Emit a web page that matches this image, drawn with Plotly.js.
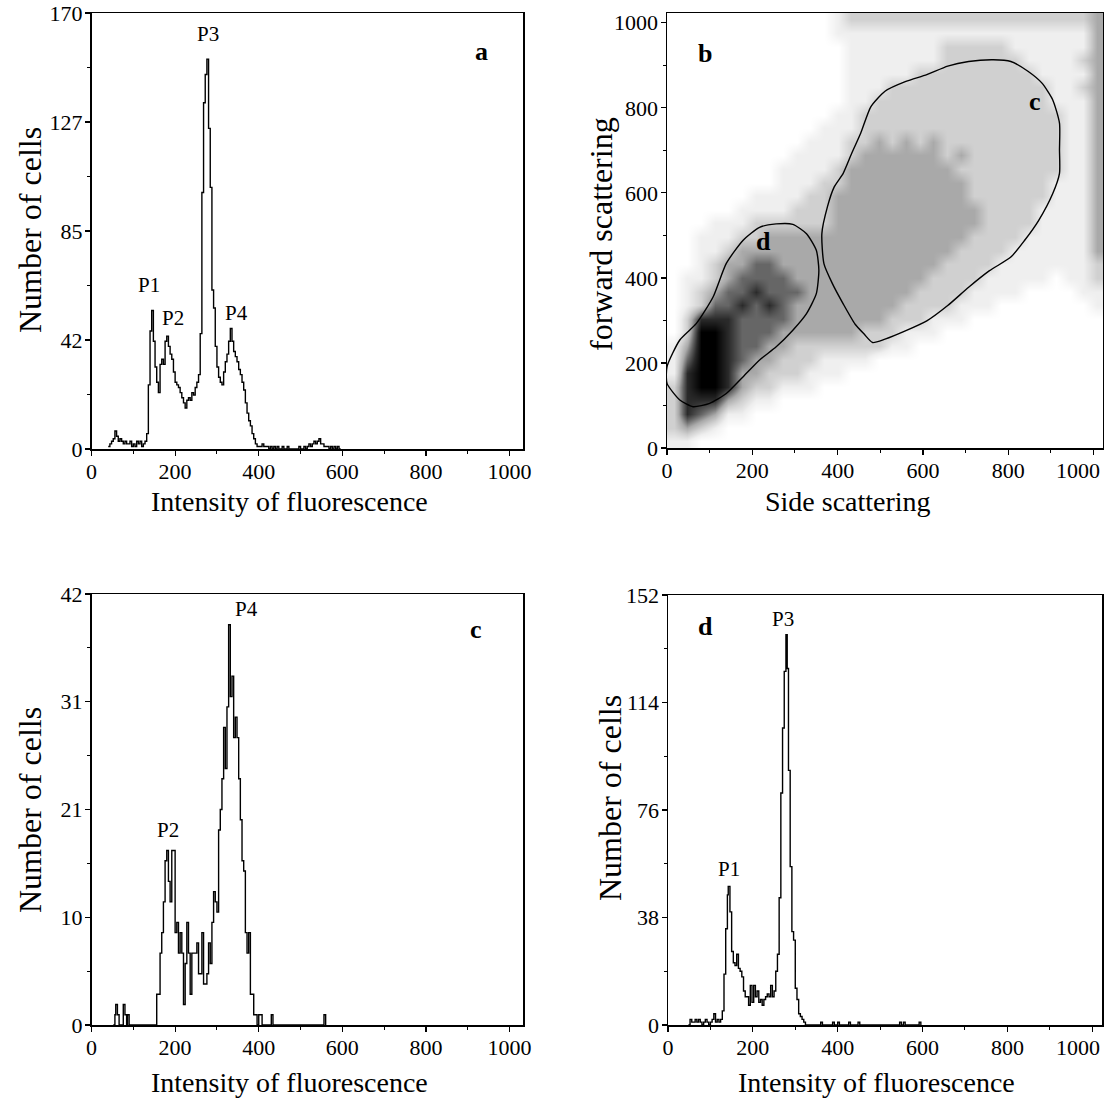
<!DOCTYPE html>
<html>
<head>
<meta charset="utf-8">
<script src="https://cdn.plot.ly/plotly-3.0.1.min.js"></script>
<style>html,body{margin:0;padding:0;background:#fff;}#chart{width:1104px;height:1102px;}</style>
</head>
<body>
<div id="chart"></div>
<script>
// ---------- Panel a : whole sample histogram ----------
const chanA = [40,44,48,52,56,60,64,68,72,76,80,84,88,92,96,100,104,108,112,116,120,124,128,132,136,140,144,148,152,156,160,164,168,172,176,180,184,188,192,196,200,204,208,212,216,220,224,228,232,236,240,244,248,252,256,260,264,268,272,276,280,284,288,292,296,300,304,308,312,316,320,324,328,332,336,340,344,348,352,356,360,364,368,372,376,380,384,388,392,396,400,404,408,412,416,420,424,428,432,436,440,444,448,452,456,460,464,468,472,476,480,484,488,492,496,500,504,508,512,516,520,524,528,532,536,540,544,548,552,556,560,564,568,572,576,580,584,588,592,596];
const countA = [1,2,3,4,7,5,3,4,3,2,3,2,2,3,1,2,1,3,2,3,1,2,3,6,25,46,54,42,32,26,22,33,35,33,42,44,40,37,35,30,26,25,24,22,20,18,16,19,20,19,22,21,24,26,29,45,100,135,146,152,125,102,62,55,40,32,28,26,25,30,34,37,42,47,42,38,36,34,31,29,26,23,18,14,11,9,6,4,2,1,1,1,2,1,1,1,0,1,0,1,0,1,0,0,1,0,0,1,0,0,0,0,0,0,1,0,0,1,0,1,2,1,2,3,2,3,4,2,2,1,1,1,0,1,0,1,0,1,0,0];

// ---------- Panel c : gate c histogram ----------
const chanC = [52,56,58,62,66,76,80,84,86,90,94,156,160,164,168,172,176,180,184,188,192,196,200,204,208,212,216,220,224,228,232,236,240,244,248,252,256,260,264,268,272,276,280,284,288,292,296,300,304,308,312,316,320,324,328,332,336,340,344,348,352,356,360,364,368,372,376,380,384,388,392,396,400,404,408,412,430,434,556,560];
const countC = [0,1,2,1,0,2,1,0,1,0,0,3,3,7,9,12,16,17,14,12,17,17,9,10,7,9,7,2,6,10,7,3,7,7,7,8,5,5,9,4,4,5,8,6,10,13,12,11,19,21,24,29,25,31,39,32,34,28,30,28,24,20,16,15,9,7,9,3,3,1,1,0,1,1,0,0,1,0,1,0];

// ---------- Panel d : gate d histogram ----------
const chanD = [48,52,56,60,64,68,72,76,80,84,88,92,96,100,104,108,112,116,120,124,128,132,136,140,142,146,150,154,158,162,166,170,174,178,182,186,190,194,198,202,206,210,214,218,222,226,230,234,238,242,246,250,254,258,262,266,270,274,278,281,284,288,292,296,300,304,308,312,316,320,324,360,364,388,392,400,404,426,430,448,452,546,550,555,559,592,596];
const countD = [0,2,1,1,2,1,2,1,0,1,2,1,0,1,2,4,1,2,1,2,5,18,34,46,49,40,26,22,21,25,20,19,17,12,10,10,7,14,8,14,10,12,8,9,7,9,10,11,10,14,10,12,19,25,45,82,105,125,138,126,90,56,33,30,13,9,4,3,2,1,0,1,0,1,0,1,0,1,0,1,0,1,0,1,0,1,0];

// ---------- Panel b : scatter density (side vs forward scattering) ----------
const sideBins = [16,48,80,112,144,176,208,240,272,304,336,368,400,432,464,496,528,560,592,624,656,688,720,752,784,816,848,880,912,944,976,1008];
const fwdBinsTopDown = [1008,976,944,912,880,848,816,784,752,720,688,656,624,592,560,528,496,464,432,400,368,336,304,272,240,208,176,144,112,80,48,16];
const densityTopDown = [
[0,0,0,0,0,0,0,0,0,0,0,0,1,2,2,2,2,2,2,2,2,2,2,2,2,2,2,2,2,2,2,3],
[0,0,0,0,0,0,0,0,0,0,0,0,1,1,1,1,1,1,1,1,1,1,1,1,1,1,1,1,1,1,1,3],
[0,0,0,0,0,0,0,0,0,0,0,0,0,1,1,1,1,1,1,1,2,2,2,2,2,1,1,1,1,1,1,3],
[0,0,0,0,0,0,0,0,0,0,0,0,0,1,1,1,1,1,1,1,2,2,2,2,2,2,1,1,1,1,2,3],
[0,0,0,0,0,0,0,0,0,0,0,0,0,1,1,1,1,1,2,2,2,2,2,2,2,2,2,1,1,1,1,3],
[0,0,0,0,0,0,0,0,0,0,0,0,0,1,1,1,2,2,2,2,2,2,2,2,2,2,2,2,1,1,2,3],
[0,0,0,0,0,0,0,0,0,0,0,0,0,1,1,2,2,2,2,2,2,2,2,2,2,2,2,2,1,1,1,3],
[0,0,0,0,0,0,0,0,0,0,0,0,1,1,2,2,2,2,2,2,2,2,2,2,2,2,2,2,2,1,1,3],
[0,0,0,0,0,0,0,0,0,0,0,1,1,1,2,2,2,2,2,2,2,2,2,2,2,2,2,2,2,1,1,3],
[0,0,0,0,0,0,0,0,0,0,1,1,1,2,2,3,2,3,2,3,2,2,2,2,2,2,2,2,2,1,1,3],
[0,0,0,0,0,0,0,0,0,1,1,1,1,2,3,3,3,3,3,3,2,3,2,2,2,2,2,2,2,1,1,3],
[0,0,0,0,0,0,0,0,1,1,1,1,2,3,3,3,3,3,3,3,3,2,2,2,2,2,2,2,2,1,1,3],
[0,0,0,0,0,0,0,0,1,1,1,2,2,3,3,3,3,3,3,3,3,3,2,2,2,2,2,2,1,1,1,3],
[0,0,0,0,0,0,1,1,1,1,2,2,3,3,3,3,3,3,3,3,3,3,2,2,2,2,2,2,1,1,1,3],
[0,0,0,0,0,1,1,1,1,2,2,2,3,3,3,3,3,3,3,3,3,3,3,2,2,2,2,1,1,1,1,3],
[0,0,0,1,1,1,2,2,2,2,2,2,3,3,3,3,3,3,3,3,3,3,3,2,2,2,2,1,1,1,1,3],
[0,0,1,1,1,2,2,3,3,3,3,3,3,3,3,3,3,3,3,3,3,3,2,2,2,2,1,1,1,1,1,3],
[0,0,1,1,2,3,3,3,3,3,3,3,3,3,3,3,3,3,3,3,3,2,2,2,2,1,1,1,1,1,1,3],
[0,0,1,2,3,3,4,4,3,3,3,3,3,3,3,3,3,3,3,3,2,2,2,2,1,1,1,1,1,1,1,2],
[0,1,1,2,3,4,4,4,4,3,3,3,3,3,3,3,3,3,3,2,2,2,2,1,1,1,1,1,0,1,1,2],
[0,1,2,3,4,4,5,4,4,4,3,3,3,3,3,3,3,3,2,2,2,2,1,1,1,1,0,0,0,0,1,1],
[0,1,2,4,4,5,4,5,4,3,3,3,3,3,3,3,3,2,2,2,2,1,1,1,0,0,0,0,0,0,0,1],
[0,2,5,5,5,4,4,4,4,3,3,3,3,3,3,3,2,2,2,1,1,1,0,0,0,0,0,0,0,0,0,0],
[0,2,6,6,5,4,4,4,3,3,3,3,3,3,2,2,2,1,1,1,0,0,0,0,0,0,0,0,0,0,0,0],
[1,3,6,6,5,4,4,3,3,2,2,2,2,2,2,2,1,1,0,0,0,0,0,0,0,0,0,0,0,0,0,0],
[1,4,6,6,5,4,3,3,2,2,2,1,1,1,1,0,0,0,0,0,0,0,0,0,0,0,0,0,0,0,0,0],
[1,5,6,6,5,3,3,2,2,2,1,1,1,0,0,0,0,0,0,0,0,0,0,0,0,0,0,0,0,0,0,0],
[2,5,6,6,5,3,2,2,1,1,1,0,0,0,0,0,0,0,0,0,0,0,0,0,0,0,0,0,0,0,0,0],
[2,5,5,5,3,2,1,1,0,0,0,0,0,0,0,0,0,0,0,0,0,0,0,0,0,0,0,0,0,0,0,0],
[2,5,4,3,1,1,0,0,0,0,0,0,0,0,0,0,0,0,0,0,0,0,0,0,0,0,0,0,0,0,0,0],
[2,3,2,1,0,0,0,0,0,0,0,0,0,0,0,0,0,0,0,0,0,0,0,0,0,0,0,0,0,0,0,0],
[1,1,0,0,0,0,0,0,0,0,0,0,0,0,0,0,0,0,0,0,0,0,0,0,0,0,0,0,0,0,0,0]
];
// gate outlines
const gateCSide = [482,511,560,609,658,707,756,806,838,871,904,920,920,920,904,879,846,806,765,707,658,609,560,511,478,454,433,413,392,376,363,368,388,413,441,462,482];
const gateCFwd  = [248,256,276,299,335,378,417,449,488,535,598,646,701,764,819,858,886,909,913,909,898,878,862,839,803,740,693,646,614,567,504,433,386,339,291,268,248];
const gateDSide = [0,0,30,69,108,139,178,217,256,295,327,350,356,350,327,295,256,217,178,139,100,61,30,0];
const gateDFwd  = [152,191,254,293,355,434,488,519,527,526,504,465,418,363,316,277,238,207,167,128,105,97,113,152];

// tick labels
const fluoTicks = [0,200,400,600,800,1000];
const fluoMinor = [100,300,500,700,900];
const scatTicks = [0,200,400,600,800,1000];
const scatMinor = [100,300,500,700,900];
const yTicksA = [0,42.5,85,127.5,170], yTextA = ['0','42','85','127','170'];
const yTicksC = [0,10.5,21,31.5,42],   yTextC = ['0','10','21','31','42'];
const yTicksD = [0,38,76,114,152],     yTextD = ['0','38','76','114','152'];

// ---------- build ----------
const W = 1104, H = 1102;
const FONT = 'Liberation Serif, Times New Roman, serif';
const fx = (a, b) => [a / W, b / W];
const fy = (top, bottom) => [1 - bottom / H, 1 - top / H];
const mid = (arr) => arr.slice(0, -1).map((v, i) => (v + arr[i + 1]) / 2);
// the last label of the right-hand panels sits against the page edge (as in the reference); drawn separately below
const edgeText = (ticks) => ticks.map((t, i) => i === ticks.length - 1 ? '' : String(t));

const lineStyle = {color: '#000', width: 1.4};
const traces = [
  {type: 'scatter', mode: 'lines', x: chanA, y: countA, line: Object.assign({shape: 'hv'}, lineStyle), xaxis: 'x', yaxis: 'y', hoverinfo: 'skip'},
  {type: 'heatmap', x: sideBins, y: fwdBinsTopDown.slice().reverse(), z: densityTopDown.slice().reverse(),
   zmin: 0, zmax: 6, showscale: false, zsmooth: 'best', xaxis: 'x2', yaxis: 'y2', hoverinfo: 'skip',
   colorscale: [[0, '#ffffff'], [1/6, '#efefef'], [2/6, '#d0d0d0'], [3/6, '#a9a9a9'], [4/6, '#666666'], [5/6, '#2a2a2a'], [1, '#000000']]},
  {type: 'scatter', mode: 'lines', x: gateCSide, y: gateCFwd, line: {color: '#000', width: 1.4, shape: 'spline', smoothing: 0.6}, xaxis: 'x2', yaxis: 'y2', hoverinfo: 'skip'},
  {type: 'scatter', mode: 'lines', x: gateDSide, y: gateDFwd, line: {color: '#000', width: 1.4, shape: 'spline', smoothing: 0.6}, xaxis: 'x2', yaxis: 'y2', hoverinfo: 'skip'},
  {type: 'scatter', mode: 'lines', x: chanC, y: countC, line: Object.assign({shape: 'hv'}, lineStyle), xaxis: 'x3', yaxis: 'y3', hoverinfo: 'skip'},
  {type: 'scatter', mode: 'lines', x: chanD, y: countD, line: Object.assign({shape: 'hv'}, lineStyle), xaxis: 'x4', yaxis: 'y4', hoverinfo: 'skip'}
];

function xAx(domain, range, ticks, text, minor, anchor) {
  return {domain, range, anchor, tickmode: 'array', tickvals: ticks, ticktext: text,
    ticks: 'outside', ticklen: 5, tickwidth: 1.2, tickcolor: '#000', ticklabelstandoff: -3, ticklabeloverflow: 'allow',
    minor: {tickvals: minor, ticks: 'outside', ticklen: 3, tickwidth: 1, tickcolor: '#000'},
    showline: true, linewidth: 1.5, linecolor: '#000', mirror: true,
    showgrid: false, zeroline: false, automargin: false, fixedrange: true,
    tickfont: {family: FONT, size: 22, color: '#000'}};
}
function yAx(domain, range, ticks, text, minor, anchor) {
  return {domain, range, anchor, tickmode: 'array', tickvals: ticks, ticktext: text,
    ticks: 'outside', ticklen: 5, tickwidth: 1.2, tickcolor: '#000', ticklabelstandoff: -2, ticklabeloverflow: 'allow',
    minor: {tickvals: minor, ticks: 'outside', ticklen: 3, tickwidth: 1, tickcolor: '#000'},
    showline: true, linewidth: 1.5, linecolor: '#000', mirror: true,
    showgrid: false, zeroline: false, automargin: false, fixedrange: true,
    tickfont: {family: FONT, size: 22, color: '#000'}};
}

const ann = (text, x, y, xr, yr, size, bold) => ({text: bold ? '<b>' + text + '</b>' : text, x, y, xref: xr, yref: yr,
  showarrow: false, font: {family: FONT, size: size, color: '#000'}, xanchor: 'center', yanchor: 'middle'});
const title = (text, px, py, size, rot, anchor) => ({text, x: px / W, y: 1 - py / H, xref: 'paper', yref: 'paper',
  showarrow: false, textangle: rot || 0, font: {family: FONT, size: size, color: '#000'}, xanchor: anchor || 'center', yanchor: 'middle'});

const layout = {
  width: W, height: H, margin: {l: 0, r: 0, t: 0, b: 0},
  paper_bgcolor: '#fff', plot_bgcolor: '#fff', showlegend: false,
  font: {family: FONT, color: '#000'},
  xaxis:  xAx(fx(91.5, 523), [0, 1032], fluoTicks, fluoTicks.map(String), fluoMinor, 'y'),
  yaxis:  yAx(fy(13, 449), [0, 170], yTicksA, yTextA, mid(yTicksA), 'x'),
  xaxis2: xAx(fx(667, 1103), [0, 1022], scatTicks, edgeText(scatTicks), scatMinor, 'y2'),
  yaxis2: yAx(fy(13, 448), [0, 1023], scatTicks, scatTicks.map(String), scatMinor, 'x2'),
  xaxis3: xAx(fx(91.5, 523), [0, 1032], fluoTicks, fluoTicks.map(String), fluoMinor, 'y3'),
  yaxis3: yAx(fy(594, 1025), [0, 42], yTicksC, yTextC, mid(yTicksC), 'x3'),
  xaxis4: xAx(fx(668, 1102), [0, 1023], fluoTicks, edgeText(fluoTicks), fluoMinor, 'y4'),
  yaxis4: yAx(fy(595, 1025), [0, 152], yTicksD, yTextD, mid(yTicksD), 'x4'),
  annotations: [
    // axis titles
    title('Intensity of fluorescence', 289, 501, 28),
    title('Number of cells', 30, 230, 32, -90),
    title('Side scattering', 848, 501, 28),
    title('forward scattering', 601, 234, 32, -90),
    title('Intensity of fluorescence', 289, 1082, 28),
    title('Number of cells', 30, 810, 32, -90),
    title('Intensity of fluorescence', 876, 1082, 28),
    title('Number of cells', 610, 798, 32, -90),
    // last x tick labels of the right-hand panels, held inside the page edge
    title(String(scatTicks[scatTicks.length - 1]), 1102, 470, 22, 0, 'right'),
    title(String(fluoTicks[fluoTicks.length - 1]), 1102, 1047, 22, 0, 'right'),
    // panel letters and peak labels
    ann('a', 932, 155, 'x', 'y', 26, true),
    ann('P1', 138, 64, 'x', 'y', 21), ann('P2', 194, 51, 'x', 'y', 21),
    ann('P3', 278, 162, 'x', 'y', 21), ann('P4', 346, 53, 'x', 'y', 21),
    ann('b', 88, 928, 'x2', 'y2', 26, true),
    ann('c', 862, 816, 'x2', 'y2', 26, true),
    ann('d', 226, 486, 'x2', 'y2', 26, true),
    ann('c', 920, 38.5, 'x3', 'y3', 26, true),
    ann('P2', 184, 19, 'x3', 'y3', 21), ann('P4', 370, 40.5, 'x3', 'y3', 21),
    ann('d', 88, 141, 'x4', 'y4', 26, true),
    ann('P1', 144, 55, 'x4', 'y4', 21), ann('P3', 271, 143.5, 'x4', 'y4', 21)
  ]
};

Plotly.newPlot('chart', traces, layout, {displayModeBar: false, staticPlot: true});
</script>
</body>
</html>
